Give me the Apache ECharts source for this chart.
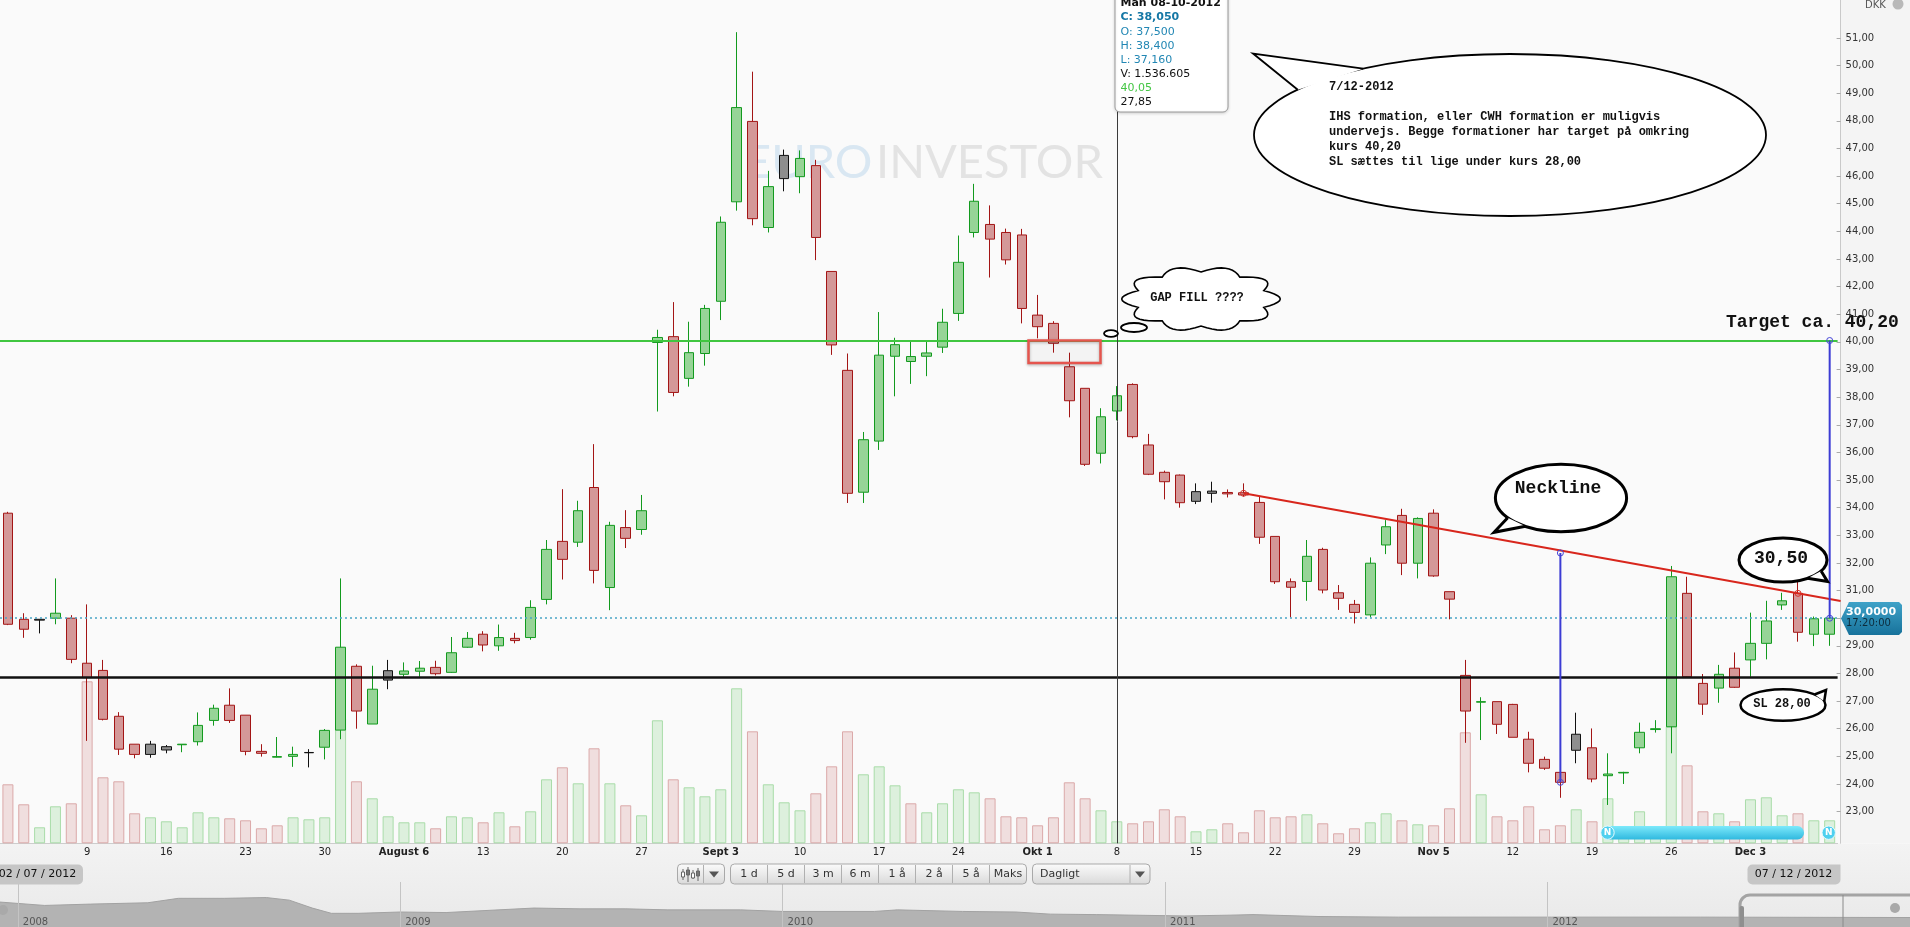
<!DOCTYPE html>
<html>
<head>
<meta charset="utf-8">
<script src="https://cdn.jsdelivr.net/npm/echarts@6/dist/echarts.min.js"></script>
<style>
  html, body { margin: 0; padding: 0; background: #fafafa; }
  #chart { width: 1910px; height: 927px; }
</style>
</head>
<body>
<div id="chart"></div>
<script>
// daily candles, Jul 2 2012 onwards (one per trading day)
const opens = [
  33.80, 29.96, 29.96, 30.00, 30.00, 28.37, 28.11, 26.45, 25.44, 25.44,
  25.35, 25.42, 25.53, 26.30, 26.85, 26.49, 25.18, 24.97, 25.00, 25.14,
  25.33, 25.95, 28.26, 26.17, 28.10, 27.97, 28.08, 28.22, 28.04, 28.95,
  29.42, 29.00, 29.27, 29.30, 30.68, 32.78, 32.75, 34.73, 31.11, 33.28,
  33.21, 39.98, 40.19, 38.68, 39.58, 41.47, 45.07, 47.98, 44.14, 46.75,
  45.98, 46.38, 42.55, 38.97, 34.56, 36.41, 39.48, 39.29, 39.48, 39.81,
  41.03, 43.96, 44.25, 43.96, 43.87, 40.97, 40.67, 39.10, 38.32, 35.97,
  37.50, 38.46, 36.27, 35.28, 35.18, 34.58, 34.60, 34.55, 34.54, 34.19,
  32.96, 31.32, 31.33, 32.49, 30.92, 30.50, 30.12, 32.65, 33.72, 31.99,
  33.80, 30.96, 27.93, 26.96, 26.98, 26.88, 25.62, 24.89, 24.42, 25.80,
  25.31, 24.30, 24.40, 25.31, 25.97, 26.07, 30.90, 27.64, 27.47, 28.19,
  28.49, 29.09, 30.48, 30.90, 29.42, 29.42
];
const highs = [
  33.85, 30.18, 29.96, 31.44, 30.11, 30.50, 28.49, 26.60, 25.44, 25.56,
  25.41, 25.44, 26.59, 26.87, 27.46, 26.49, 25.44, 25.70, 25.35, 25.26,
  25.99, 31.44, 28.33, 28.28, 28.49, 28.40, 28.45, 28.46, 29.32, 29.50,
  29.53, 29.77, 29.47, 30.65, 32.83, 34.67, 34.25, 36.30, 33.49, 33.91,
  34.46, 40.44, 41.44, 40.73, 41.34, 44.54, 51.21, 49.78, 46.19, 46.96,
  46.93, 46.59, 42.55, 39.58, 36.74, 41.08, 40.15, 40.02, 40.02, 41.20,
  43.85, 45.72, 44.94, 44.10, 44.09, 41.70, 40.75, 39.61, 38.32, 37.60,
  38.40, 38.50, 36.67, 35.34, 35.20, 34.88, 34.94, 34.66, 34.88, 34.42,
  32.96, 31.44, 32.83, 32.55, 31.20, 30.66, 32.20, 33.55, 33.96, 33.65,
  33.94, 30.96, 28.49, 27.14, 26.98, 26.90, 25.89, 24.99, 24.45, 26.58,
  26.01, 25.11, 24.44, 26.22, 26.31, 31.89, 31.50, 27.98, 28.31, 28.76,
  30.20, 30.63, 30.92, 31.32, 30.06, 30.00
];
const lows = [
  29.75, 29.29, 29.45, 29.78, 28.37, 25.56, 26.30, 25.05, 24.93, 24.95,
  25.11, 25.15, 25.39, 26.11, 26.21, 25.04, 24.99, 24.96, 24.62, 24.60,
  24.89, 25.62, 26.00, 26.17, 27.43, 27.88, 27.88, 27.93, 28.02, 28.93,
  28.80, 28.82, 29.09, 29.22, 30.50, 31.40, 32.58, 31.26, 30.29, 32.54,
  33.02, 37.48, 38.03, 38.38, 39.14, 40.79, 44.75, 44.22, 43.96, 45.45,
  45.38, 42.96, 39.53, 34.17, 34.17, 36.09, 38.03, 38.48, 38.76, 39.60,
  40.76, 43.78, 42.33, 42.80, 40.67, 40.13, 39.61, 37.27, 35.51, 35.60,
  37.16, 36.51, 35.18, 34.30, 34.00, 34.13, 34.18, 34.37, 34.40, 32.69,
  31.24, 30.03, 30.63, 30.90, 30.30, 29.81, 30.03, 32.32, 31.56, 31.44,
  31.50, 29.96, 25.49, 25.59, 25.81, 25.69, 24.42, 24.51, 23.50, 24.75,
  24.06, 23.24, 24.00, 25.11, 25.86, 25.11, 27.85, 26.50, 26.94, 27.48,
  27.88, 28.51, 30.30, 29.15, 28.99, 29.00
];
const closes = [
  29.78, 29.60, 29.93, 30.18, 28.51, 27.85, 26.34, 25.26, 25.07, 25.07,
  25.23, 25.44, 26.12, 26.74, 26.30, 25.18, 25.11, 24.99, 25.07, 25.13,
  25.94, 28.95, 26.64, 27.43, 27.76, 28.09, 28.19, 27.99, 28.75, 29.27,
  29.03, 29.30, 29.19, 30.39, 32.49, 32.13, 33.89, 31.73, 33.36, 32.89,
  33.89, 40.16, 38.17, 39.61, 41.21, 44.33, 48.48, 44.46, 45.62, 45.91,
  46.64, 43.78, 39.89, 34.52, 36.46, 39.52, 39.90, 39.47, 39.60, 40.71,
  42.88, 45.09, 43.72, 42.97, 41.21, 40.55, 39.95, 37.87, 35.57, 37.29,
  38.05, 36.57, 35.21, 34.94, 34.18, 34.23, 34.52, 34.50, 34.46, 32.93,
  31.32, 31.12, 32.24, 31.02, 30.72, 30.21, 31.99, 33.31, 31.99, 33.61,
  31.53, 30.69, 26.64, 26.98, 26.16, 25.69, 24.75, 24.57, 24.06, 25.22,
  24.18, 24.36, 24.42, 25.87, 26.00, 31.50, 27.88, 26.89, 27.97, 27.50,
  29.09, 29.90, 30.63, 29.49, 29.98, 30.00
];
// volume, thousands of shares
const volumes = [
  4121, 2724, 1118, 2584, 2794, 11316, 4610, 4331, 2096, 1816,
  1537, 1118, 2165, 1816, 1746, 1607, 1048, 1257, 1816, 1676,
  1816, 8731, 4331, 3143, 1886, 1467, 1467, 1048, 1886, 1816,
  1467, 2165, 1187, 2235, 4470, 5309, 4191, 6636, 4191, 2654,
  1956, 8592, 4470, 3912, 3283, 3772, 10827, 7823, 4121, 2864,
  2305, 3493, 5378, 7823, 4820, 5378, 4051, 2794, 2165, 2794,
  3772, 3562, 3143, 1886, 1816, 1257, 1816, 4261, 3143, 2305,
  1537, 1397, 1537, 2375, 1886, 838, 978, 1397, 768, 2305,
  1816, 1886, 2026, 1397, 699, 1048, 1467, 2096, 1607, 1327,
  1257, 2445, 7753, 3423, 1886, 1607, 2584, 978, 1257, 2375,
  1537, 3143, 838, 2235, 1048, 8172, 5448, 2235, 2096, 1537,
  3073, 3213, 1956, 2096, 1607, 1607
];
// labels under each monday (every 5th candle)
const weekLabels = ['', '9', '16', '23', '30', 'August 6', '13', '20', '27', 'Sept 3', '10', '17',
  '24', 'Okt 1', '8', '15', '22', '29', 'Nov 5', '12', '19', '26', 'Dec 3', ''];
const priceTicks = [23, 24, 25, 26, 27, 28, 29, 30, 31, 32, 33, 34, 35, 36, 37,
  38, 39, 40, 41, 42, 43, 44, 45, 46, 47, 48, 49, 50, 51];

// drawn levels
const targetLevel = 40.05;
const stopLevel = 27.85;
const lastPrice = 30.00;
const neckline = [[78, 34.52, 113, 30.90]];
const measureLines = [[98, 32.36, 24.06], [115, 40.05, 30.00]];

// overview strip (year, relative level)
const historyYears = [2007.95, 2008.07, 2008.19, 2008.34, 2008.42, 2008.54, 2008.65, 2008.71, 2008.77,
  2008.82, 2008.89, 2009.00, 2009.12, 2009.35, 2009.47, 2009.59, 2009.70, 2009.89, 2010.00, 2010.24,
  2010.30, 2010.47, 2010.61, 2010.70, 2010.82, 2011.05, 2011.17, 2011.23, 2011.40, 2011.61, 2012.01,
  2012.40, 2012.95];
const historyLevels = [31.7, 27.3, 29, 30.7, 36.3, 36.3, 37.3, 34, 24, 17.3, 17.3, 19, 18.3, 24, 23,
  23, 21.7, 21.7, 19.7, 19.7, 21.7, 19.7, 19, 16.3, 15.7, 14, 15, 15.7, 13.3, 12.5, 12.5, 12.5, 12];
const historyYearTicks = [2008, 2009, 2010, 2011, 2012];

const dates = [];
{
  const d = new Date(2012, 6, 2);
  while (dates.length < opens.length) {
    const wd = d.getDay();
    if (wd !== 0 && wd !== 6) {
      dates.push(d.getFullYear() + '-' + String(d.getMonth() + 1).padStart(2, '0') + '-' + String(d.getDate()).padStart(2, '0'));
    }
    d.setDate(d.getDate() + 1);
  }
}

const GREEN = { fill: '#97d497', line: '#129a1e' };
const RED = { fill: '#d49898', line: '#a31515' };
const GREY = { fill: '#8e8e8e', line: '#111111' };

function candleColor(i) {
  if (closes[i] > opens[i]) return GREEN;
  if (i > 0 && closes[i] >= closes[i - 1]) return GREY;
  return RED;
}

const candleData = opens.map((o, i) => {
  const c = candleColor(i);
  return {
    value: [o, closes[i], lows[i], highs[i]],
    itemStyle: { color: c.fill, color0: c.fill, borderColor: c.line, borderColor0: c.line, borderColorDoji: c.line }
  };
});

const volumeData = volumes.map((v, i) => {
  const up = i === 0 ? closes[0] > opens[0] : closes[i] >= closes[i - 1];
  return {
    value: v,
    itemStyle: up
      ? { color: '#ddf0dd', borderColor: '#a9dca9', borderWidth: 1 }
      : { color: '#f0dede', borderColor: '#dba9a9', borderWidth: 1 }
  };
});

const FONT = '"DejaVu Sans", Verdana, sans-serif';
const MONO = '"Liberation Mono", "DejaVu Sans Mono", monospace';

function txt(text, x, y, opt) {
  return {
    type: 'text', x, y, z: 120, silent: true,
    style: Object.assign({ text, fill: '#111', font: '11px ' + FONT, align: 'left', verticalAlign: 'middle' }, opt || {})
  };
}

function ellipsePoint(cx, cy, rx, ry, deg) {
  const a = deg * Math.PI / 180;
  return [cx + rx * Math.cos(a), cy + ry * Math.sin(a)];
}

// ellipse with a pointed tail
function bubble(cx, cy, rx, ry, a1, a2, tip, lw) {
  const p1 = ellipsePoint(cx, cy, rx, ry, a1);
  const p2 = ellipsePoint(cx, cy, rx, ry, a2);
  return [
    { type: 'ellipse', z: 110, silent: true, shape: { cx, cy, rx, ry }, style: { fill: '#fff', stroke: '#000', lineWidth: lw } },
    { type: 'polygon', z: 111, silent: true, shape: { points: [p1, tip, p2] }, style: { fill: '#fff' } },
    { type: 'polyline', z: 112, silent: true, shape: { points: [p1, tip, p2] }, style: { stroke: '#000', lineWidth: lw, fill: null, lineJoin: 'miter' } }
  ];
}

function cloudPoints(cx, cy, rx, ry, n, puff) {
  const pts = [];
  for (let k = 0; k < n; k++) {
    const a0 = -Math.PI / 2 + 2 * Math.PI * k / n;
    const a1 = a0 + 2 * Math.PI / n;
    const am = (a0 + a1) / 2;
    const p0 = [cx + rx * Math.cos(a0), cy + ry * Math.sin(a0)];
    const p1 = [cx + rx * Math.cos(a1), cy + ry * Math.sin(a1)];
    const q = [cx + rx * puff * Math.cos(am), cy + ry * puff * Math.sin(am)];
    for (let t = 0; t < 1; t += 0.1) {
      const u = 1 - t;
      pts.push([u * u * p0[0] + 2 * u * t * q[0] + t * t * p1[0], u * u * p0[1] + 2 * u * t * q[1] + t * t * p1[1]]);
    }
  }
  return pts;
}

function button(x, y, w, h, parts) {
  const els = [{
    type: 'rect', z: 50, silent: true, shape: { x, y, width: w, height: h, r: 4 },
    style: { fill: new echarts.graphic.LinearGradient(0, 0, 0, 1, [{ offset: 0, color: '#fbfbfb' }, { offset: 1, color: '#d9d9d9' }]), stroke: '#a9a9a9', lineWidth: 1 }
  }];
  (parts || []).forEach(px => els.push({ type: 'line', z: 51, silent: true, shape: { x1: px, y1: y + 1, x2: px, y2: y + h - 1 }, style: { stroke: '#b0b0b0', lineWidth: 1 } }));
  return els;
}

function downArrow(cx, cy) {
  return { type: 'polygon', z: 52, silent: true, shape: { points: [[cx - 5, cy - 3], [cx + 5, cy - 3], [cx, cy + 3]] }, style: { fill: '#555' } };
}

const overlay = [];
// panels
overlay.push({ type: 'rect', z: -10, silent: true, shape: { x: 1841, y: 0, width: 69, height: 843 }, style: { fill: '#f4f4f4' } });
overlay.push({ type: 'rect', z: -10, silent: true, shape: { x: 0, y: 843.5, width: 1910, height: 84 },
  style: { fill: new echarts.graphic.LinearGradient(0, 0, 0, 1, [{ offset: 0, color: '#f3f3f3' }, { offset: 1, color: '#e9e9e9' }]) } });
// watermark
overlay.push({ type: 'text', x: 744, y: 163, z: 1, silent: true, style: { text: 'EURO', fill: '#d9e7f2', font: '47px Lato, "Open Sans", sans-serif', verticalAlign: 'middle' } });
overlay.push({ type: 'text', x: 876, y: 163, z: 1, silent: true, style: { text: 'INVESTOR', fill: '#e3e3e3', font: '47px Lato, "Open Sans", sans-serif', verticalAlign: 'middle' } });

// DKK label
overlay.push(txt('DKK', 1865, 5, { fill: '#555', font: '10px ' + FONT }));
overlay.push({ type: 'circle', z: 120, silent: true, shape: { cx: 1898, cy: 4, r: 5.5 }, style: { fill: '#b9b9b9' } });

// hover box
overlay.push({ type: 'rect', z: 105, silent: true, shape: { x: 1115, y: -8, width: 113, height: 120, r: 5 }, style: { fill: '#fff', stroke: '#9a9a9a', lineWidth: 1, shadowBlur: 3, shadowColor: 'rgba(0,0,0,0.15)', shadowOffsetY: 1 } });
overlay.push(txt('Man 08-10-2012', 1120.5, 3.5, { font: 'bold 11px ' + FONT }));
overlay.push(txt('C: 38,050', 1120.5, 17.5, { font: 'bold 11px ' + FONT, fill: '#1577a5' }));
overlay.push(txt('O: 37,500', 1120.5, 32, { fill: '#2287b4' }));
overlay.push(txt('H: 38,400', 1120.5, 45.7, { fill: '#2287b4' }));
overlay.push(txt('L: 37,160', 1120.5, 60, { fill: '#2287b4' }));
overlay.push(txt('V: 1.536.605', 1120.5, 73.7));
overlay.push(txt('40,05', 1120.5, 88.3, { fill: '#44c644' }));
overlay.push(txt('27,85', 1120.5, 101.7));

// big speech bubble
overlay.push(...bubble(1510, 135, 256, 81, 214, 235, [1253, 53.5], 1.8));
const noteLines = ['7/12-2012', '', 'IHS formation, eller CWH formation er muligvis',
  'undervejs. Begge formationer har target på omkring', 'kurs 40,20', 'SL sættes til lige under kurs 28,00'];
noteLines.forEach((l, k) => overlay.push(txt(l, 1329, 87.3 + k * 15, { font: 'bold 12px ' + MONO })));

// gap fill cloud
overlay.push({ type: 'polygon', z: 110, silent: true, shape: { points: cloudPoints(1201, 299, 66, 27, 10, 1.45) }, style: { fill: '#fff', stroke: '#000', lineWidth: 1.6 } });
overlay.push({ type: 'ellipse', z: 110, silent: true, shape: { cx: 1134, cy: 327.5, rx: 13, ry: 4.5 }, style: { fill: '#fff', stroke: '#000', lineWidth: 1.8 } });
overlay.push({ type: 'ellipse', z: 110, silent: true, shape: { cx: 1111, cy: 333.5, rx: 7, ry: 3.3 }, style: { fill: '#fff', stroke: '#000', lineWidth: 1.8 } });
overlay.push(txt('GAP FILL ????', 1197, 297.5, { font: 'bold 12px ' + MONO, align: 'center' }));

// gap box
overlay.push({ type: 'rect', z: 108, silent: true, shape: { x: 1028.5, y: 340.5, width: 72, height: 22.5 }, style: { fill: 'rgba(0,0,0,0.02)', stroke: '#e5554e', lineWidth: 2.5, shadowBlur: 3, shadowColor: 'rgba(0,0,0,0.3)', shadowOffsetY: 1 } });

// neckline bubble
overlay.push(...bubble(1561, 498, 65.6, 33.7, 122.8, 144.3, [1494, 532.3], 3));
overlay.push(txt('Neckline', 1558, 488.5, { font: 'bold 18px ' + MONO, align: 'center' }));

// 30,50 bubble
overlay.push(...bubble(1783, 560, 44, 22, 30, 56, [1827.5, 581.5], 3));
overlay.push(txt('30,50', 1781, 558.5, { font: 'bold 18px ' + MONO, align: 'center' }));

// SL bubble
overlay.push(...bubble(1783, 705, 42.5, 15.7, -42, -14, [1826, 690], 2.5));
overlay.push(txt('SL 28,00', 1782, 704, { font: 'bold 12px ' + MONO, align: 'center' }));

// target text
overlay.push(txt('Target ca. 40,20', 1726, 322.5, { font: 'bold 18px ' + MONO }));

// last price tag
overlay.push({ type: 'polygon', z: 115, silent: true,
  shape: { points: [[1841, 618.5], [1849, 602], [1899, 602], [1902, 605], [1902, 632], [1899, 635], [1849, 635]] },
  style: { fill: new echarts.graphic.LinearGradient(0, 0, 0, 1, [{ offset: 0, color: '#3fa2c8' }, { offset: 1, color: '#17729b' }]) } });
overlay.push(txt('30,0000', 1846, 612, { font: 'bold 11px ' + FONT, fill: '#fff' }));
overlay.push(txt('17:20:00', 1846, 623.5, { font: '10px ' + FONT, fill: '#0d2c3c' }));

// news markers
overlay.push({ type: 'rect', z: 60, silent: true, shape: { x: 1601, y: 826, width: 203, height: 13.5, r: 6.5 },
  style: { fill: new echarts.graphic.LinearGradient(0, 0, 0, 1, [{ offset: 0, color: '#7de9fb' }, { offset: 1, color: '#2fb9df' }]) } });
[1607.5, 1828.7].forEach(cx => {
  overlay.push({ type: 'circle', z: 61, silent: true, shape: { cx, cy: 832.7, r: 6.7 }, style: { fill: '#4fd0ef', stroke: '#e8fbff', lineWidth: 1 } });
  overlay.push(txt('N', cx, 833, { font: 'bold 9px ' + FONT, fill: '#fff', align: 'center' }));
});

// date range boxes
overlay.push({ type: 'rect', z: 50, silent: true, shape: { x: -8, y: 864.5, width: 91, height: 20, r: 5 }, style: { fill: '#c6c6c6' } });
overlay.push(txt('02 / 07 / 2012', 37.5, 874.5, { align: 'center' }));
overlay.push({ type: 'rect', z: 50, silent: true, shape: { x: 1747.5, y: 864.5, width: 93, height: 20, r: [5, 0, 5, 5] }, style: { fill: '#c6c6c6' } });
overlay.push(txt('07 / 12 / 2012', 1793.5, 874.5, { align: 'center' }));

// toolbar
overlay.push(...button(677.5, 864, 47, 20, [703.5]));
[[683, 869, 880], [688, 867, 882], [693, 870, 879], [698, 868, 881]].forEach(([x, a, b], k) => {
  overlay.push({ type: 'line', z: 52, silent: true, shape: { x1: x, y1: a, x2: x, y2: b }, style: { stroke: '#666', lineWidth: 1 } });
  overlay.push({ type: 'rect', z: 52, silent: true, shape: { x: x - 1.5, y: a + 3, width: 3, height: 5 }, style: { fill: k % 2 ? '#777' : '#fff', stroke: '#666', lineWidth: 1 } });
});
overlay.push(downArrow(714, 874.5));
const periodEdges = [730.5, 767.5, 804.5, 841.5, 878.5, 915.5, 952.5, 989.5, 1026.5];
const periodNames = ['1 d', '5 d', '3 m', '6 m', '1 å', '2 å', '5 å', 'Maks'];
overlay.push(...button(730.5, 864, 296, 20, periodEdges.slice(1, -1)));
periodNames.forEach((n, k) => overlay.push(txt(n, (periodEdges[k] + periodEdges[k + 1]) / 2, 874.5, { align: 'center', fill: '#333' })));
overlay.push(...button(1032.5, 864, 117.5, 20, [1130]));
overlay.push(txt('Dagligt', 1040, 874.5, { fill: '#333' }));
overlay.push(downArrow(1140, 874.5));

// navigator window
overlay.push({ type: 'rect', z: 40, silent: true, shape: { x: 1740, y: 895, width: 200, height: 60, r: 10 }, style: { fill: null, stroke: '#a4a4a4', lineWidth: 3 } });
overlay.push({ type: 'line', z: 41, silent: true, shape: { x1: 1843, y1: 895, x2: 1843, y2: 927 }, style: { stroke: '#8a8a8a', lineWidth: 1 } });
overlay.push({ type: 'rect', z: 41, silent: true, shape: { x: 1739.5, y: 906, width: 4.5, height: 24, r: 2 }, style: { fill: '#8f8f8f' } });
overlay.push({ type: 'circle', z: 41, silent: true, shape: { cx: 1895, cy: 908, r: 5 }, style: { fill: '#a9a9a9' } });
overlay.push({ type: 'circle', z: 41, silent: true, shape: { cx: 3, cy: 910, r: 5 }, style: { fill: '#a9a9a9' } });

const chart = echarts.init(document.getElementById('chart'));

const option = {
  animation: false,
  backgroundColor: '#fafafa',
  textStyle: { fontFamily: FONT },
  grid: [
    { left: -5.65, right: 72.4, top: 0, bottom: 83.7 },
    { left: -5.65, right: 72.4, bottom: 83.7, height: 200.4 },
    { left: 0, right: 0, top: 882, bottom: -12 }
  ],
  xAxis: [
    { type: 'category', gridIndex: 0, data: dates, boundaryGap: true, show: false },
    {
      type: 'category', gridIndex: 1, data: dates, boundaryGap: true,
      axisLine: { lineStyle: { color: '#cdcdcd' } },
      axisTick: { inside: true, length: 3, alignWithLabel: true, interval: (i) => i % 5 === 0 && i > 0, lineStyle: { color: '#aaaaaa' } },
      axisLabel: {
        interval: (i) => i % 5 === 0 && i > 0 && !!weekLabels[i / 5],
        margin: 4, fontSize: 10, color: '#222',
        formatter: (v, i) => {
          const l = weekLabels[i / 5] || '';
          return /[A-Za-z]/.test(l) ? '{b|' + l + '}' : l;
        },
        rich: { b: { fontWeight: 'bold', fontSize: 10, color: '#222' } }
      }
    },
    {
      type: 'value', gridIndex: 2, min: 2007.9535, max: 2012.948, z: 10,
      axisLine: { show: false }, axisTick: { show: false }, splitLine: { show: false },
      axisLabel: { customValues: historyYearTicks, showMinLabel: true, showMaxLabel: true, inside: true, margin: 10,
        verticalAlign: 'top', align: 'left', padding: [0, 0, 0, 5], color: '#555', fontSize: 10, formatter: (v) => String(v) }
    }
  ],
  yAxis: [
    {
      type: 'value', gridIndex: 0, position: 'right', offset: 3, min: 21.853, max: 52.374,
      axisLine: { show: true, lineStyle: { color: '#c9c9c9' } },
      axisTick: { show: true, inside: true, length: 4, customValues: priceTicks, lineStyle: { color: '#aaaaaa' } },
      axisLabel: { customValues: priceTicks, margin: 5, fontSize: 10, color: '#333', formatter: (v) => v.toFixed(2).replace('.', ',') },
      splitLine: { show: false }
    },
    { type: 'value', gridIndex: 1, min: 0, max: 14000, show: false, splitLine: { show: false } },
    { type: 'value', gridIndex: 2, min: 0, max: 57, show: false, splitLine: { show: false } }
  ],
  series: [
    {
      name: 'Volumen', type: 'bar', xAxisIndex: 1, yAxisIndex: 1, data: volumeData,
      barWidth: 11, z: 1, silent: true
    },
    {
      name: 'Kurs', type: 'candlestick', xAxisIndex: 0, yAxisIndex: 0, data: candleData,
      barWidth: 10, z: 3, silent: true,
      itemStyle: { borderWidth: 1 },
      markLine: {
        silent: true, symbol: 'none', animation: false, label: { show: false },
        data: [
          { yAxis: targetLevel, lineStyle: { color: '#40c640', width: 2, type: 'solid' } },
          { yAxis: stopLevel, lineStyle: { color: '#111', width: 2.5, type: 'solid' } },
          { yAxis: lastPrice, lineStyle: { color: '#4aa5c6', width: 1.6, type: [2, 3] } },
          { xAxis: dates[70], lineStyle: { color: '#3a3a3a', width: 1, type: 'solid' } }
        ]
      }
    },
    {
      name: 'Neckline', type: 'custom', xAxisIndex: 0, yAxisIndex: 0, clip: false, z: 5, silent: true,
      data: neckline,
      encode: { x: [0, 2], y: [1, 3] },
      renderItem: (params, api) => {
        const a = api.coord([api.value(0), api.value(1)]);
        const b = api.coord([api.value(2), api.value(3)]);
        const cs = params.coordSys;
        const xEnd = cs.x + cs.width + 3;
        const yEnd = a[1] + (b[1] - a[1]) / (b[0] - a[0]) * (xEnd - a[0]);
        const ring = (p) => ({ type: 'circle', shape: { cx: p[0], cy: p[1], r: 3 }, style: { fill: 'none', stroke: '#d8322a', lineWidth: 1 } });
        return {
          type: 'group', children: [
            { type: 'line', shape: { x1: a[0], y1: a[1], x2: xEnd, y2: yEnd }, style: { stroke: '#d8261c', lineWidth: 2 } },
            ring(a), ring(b)
          ]
        };
      }
    },
    {
      name: 'Maal', type: 'custom', xAxisIndex: 0, yAxisIndex: 0, clip: false, z: 6, silent: true,
      data: measureLines,
      encode: { x: 0, y: [1, 2] },
      renderItem: (params, api) => {
        const t = api.coord([api.value(0), api.value(1)]);
        const b = api.coord([api.value(0), api.value(2)]);
        const ring = (p) => ({ type: 'circle', shape: { cx: p[0], cy: p[1], r: 3 }, style: { fill: 'none', stroke: '#4646d8', lineWidth: 1 } });
        return {
          type: 'group', children: [
            { type: 'line', shape: { x1: t[0], y1: t[1], x2: b[0], y2: b[1] }, style: { stroke: '#3c3cd4', lineWidth: 2 } },
            ring(t), ring(b)
          ]
        };
      }
    },
    {
      name: 'Historik', type: 'line', xAxisIndex: 2, yAxisIndex: 2, silent: true, z: 2,
      data: historyYears.map((y, i) => [y, historyLevels[i]]),
      symbol: 'none',
      lineStyle: { color: '#a2a2a2', width: 1 },
      areaStyle: { color: '#b3b3b3', opacity: 1 },
      markLine: {
        silent: true, symbol: 'none', label: { show: false },
        lineStyle: { color: '#c4c4c4', width: 1, type: 'solid' },
        data: historyYearTicks.map(y => ({ xAxis: y }))
      }
    }
  ],
  graphic: { elements: overlay }
};

chart.setOption(option);
</script>
</body>
</html>
